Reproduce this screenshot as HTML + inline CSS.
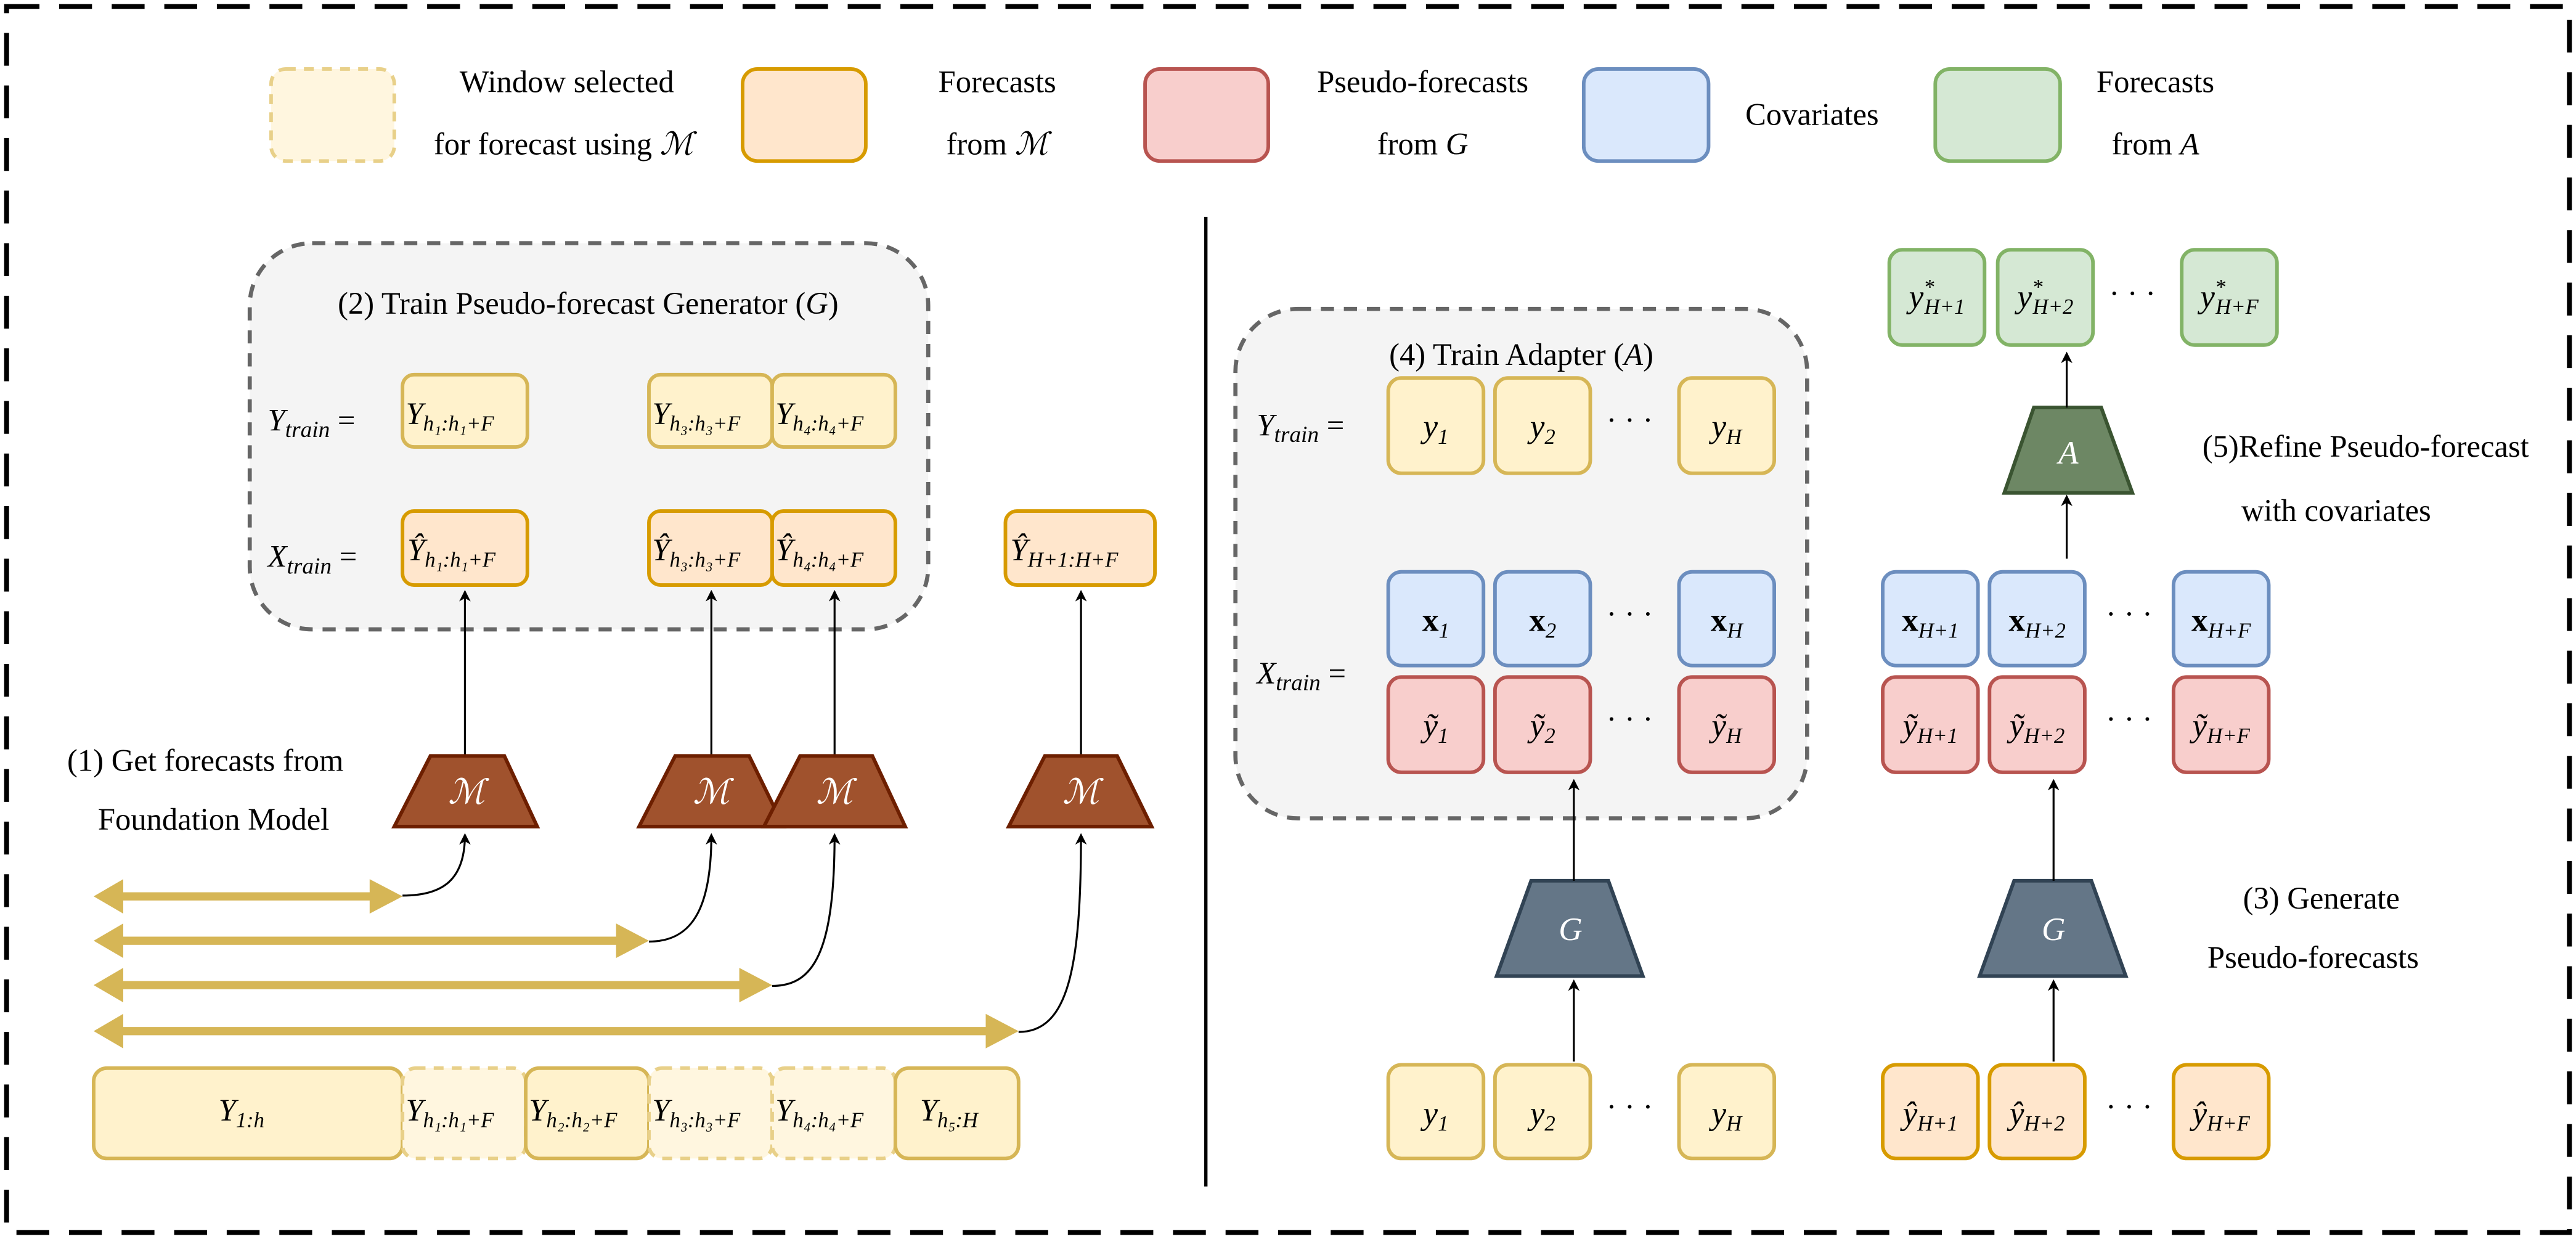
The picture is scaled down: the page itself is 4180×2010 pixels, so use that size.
<!DOCTYPE html>
<html><head><meta charset="utf-8"><style>
html,body{margin:0;padding:0;background:#fff;}
svg{display:block;}
svg text{font-family:"Liberation Serif","DejaVu Serif",serif !important;}
.m{font-style:italic;}
</style></head><body>
<svg width="4180" height="2010" viewBox="0 0 1568 754" xmlns="http://www.w3.org/2000/svg" font-family="Liberation Serif, DejaVu Serif, serif">
<defs>
<marker id="ah" markerWidth="8" markerHeight="8" refX="6" refY="4" orient="auto" markerUnits="userSpaceOnUse"><path d="M0,0.5 L7,4 L0,7.5 L2,4 Z" fill="#000"/></marker>
</defs>
<rect x="4" y="4" width="1560" height="746" fill="none" stroke="#000" stroke-width="3" stroke-dasharray="20,12"/>

<g stroke-width="2.2">
<rect x="165" y="42" width="75" height="56" rx="9" fill="#fff6df" stroke="#e8d089" stroke-dasharray="6,5"/>
<rect x="452" y="42" width="75" height="56" rx="9" fill="#ffe6cc" stroke="#d79b00"/>
<rect x="697" y="42" width="75" height="56" rx="9" fill="#f8cecc" stroke="#b85450"/>
<rect x="964" y="42" width="76" height="56" rx="9" fill="#dae8fc" stroke="#6c8ebf"/>
<rect x="1178" y="42" width="76" height="56" rx="9" fill="#d5e8d4" stroke="#82b366"/>
</g>
<g font-size="19" text-anchor="middle">
<text x="345" y="56">Window selected</text>
<text x="343" y="94">for forecast using <tspan class="m">ℳ</tspan></text>
<text x="607" y="56">Forecasts</text>
<text x="607" y="94">from <tspan class="m">ℳ</tspan></text>
<text x="866" y="56">Pseudo-forecasts</text>
<text x="866" y="94">from <tspan class="m">G</tspan></text>
<text x="1103" y="76">Covariates</text>
<text x="1312" y="56">Forecasts</text>
<text x="1312" y="94">from <tspan class="m">A</tspan></text>
</g>

<line x1="734" y1="132" x2="734" y2="722" stroke="#000" stroke-width="2"/>

<rect x="152" y="148" width="413" height="235" rx="38" fill="#f4f4f4" stroke="#666" stroke-width="2.5" stroke-dasharray="8,6"/>
<text x="358" y="191" font-size="19" text-anchor="middle">(2) Train Pseudo-forecast Generator (<tspan class="m">G</tspan>)</text>
<text x="163" y="262" font-size="19"><tspan class="m">Y</tspan><tspan class="m" font-size="14" dy="4">train</tspan><tspan dy="-4"> =</tspan></text>
<text x="163" y="345" font-size="19"><tspan class="m">X</tspan><tspan class="m" font-size="14" dy="4">train</tspan><tspan dy="-4"> =</tspan></text>
<g stroke-width="2.2" fill="#fff2cc" stroke="#d6b656">
<rect x="245" y="228" width="76" height="44" rx="7"/>
<rect x="395" y="228" width="75" height="44" rx="7"/>
<rect x="470" y="228" width="75" height="44" rx="7"/>
</g>
<g stroke-width="2.2" fill="#ffe6cc" stroke="#d79b00">
<rect x="245" y="311" width="76" height="45" rx="7"/>
<rect x="395" y="311" width="75" height="45" rx="7"/>
<rect x="470" y="311" width="75" height="45" rx="7"/>
<rect x="612" y="311" width="91" height="45" rx="7"/>
</g>
<g font-size="19" class="m">
<text x="247" y="258">Y<tspan font-size="13" dy="4">h₁:h₁+F</tspan></text>
<text x="397" y="258">Y<tspan font-size="13" dy="4">h₃:h₃+F</tspan></text>
<text x="472" y="258">Y<tspan font-size="13" dy="4">h₄:h₄+F</tspan></text>
<text x="248" y="341">Ŷ<tspan font-size="13" dy="4">h₁:h₁+F</tspan></text>
<text x="397" y="341">Ŷ<tspan font-size="13" dy="4">h₃:h₃+F</tspan></text>
<text x="472" y="341">Ŷ<tspan font-size="13" dy="4">h₄:h₄+F</tspan></text>
<text x="615" y="341">Ŷ<tspan font-size="13" dy="4">H+1:H+F</tspan></text>
</g>
<g stroke="#000" stroke-width="1.2" marker-end="url(#ah)">
<line x1="283" y1="460" x2="283" y2="360"/>
<line x1="433" y1="460" x2="433" y2="360"/>
<line x1="508" y1="460" x2="508" y2="360"/>
<line x1="658" y1="460" x2="658" y2="360"/>
</g>
<g fill="#a0522d" stroke="#6d1f00" stroke-width="2.2">
<polygon points="262,460 307,460 327,503 240,503"/>
<polygon points="411,460 456,460 477,503 389,503"/>
<polygon points="487,460 531,460 551,503 465,503"/>
<polygon points="636,460 680,460 701,503 614,503"/>
</g>
<g font-size="21" text-anchor="middle" class="m">
<text x="284" y="489" fill="#fff">ℳ</text>
<text x="433" y="489" fill="#fff">ℳ</text>
<text x="508" y="489" fill="#fff">ℳ</text>
<text x="658" y="489" fill="#fff">ℳ</text>
</g>
<text x="125" y="469" font-size="19" text-anchor="middle">(1) Get forecasts from</text>
<text x="130" y="505" font-size="19" text-anchor="middle">Foundation Model</text>

<g fill="#d6b656" stroke="none">
<rect x="65" y="543" width="165" height="5"/>
<polygon points="57,545.5 75,535 75,556"/><polygon points="245,545.5 225,535 225,556"/>
<rect x="65" y="570" width="315" height="5"/>
<polygon points="57,572.5 75,562 75,583"/><polygon points="395,572.5 375,562 375,583"/>
<rect x="65" y="597" width="390" height="5"/>
<polygon points="57,599.5 75,589 75,610"/><polygon points="470,599.5 450,589 450,610"/>
<rect x="65" y="625" width="540" height="5"/>
<polygon points="57,627.5 75,617 75,638"/><polygon points="620,627.5 600,617 600,638"/>
</g>
<g fill="none" stroke="#000" stroke-width="1.2" marker-end="url(#ah)">
<path d="M245,545 C270,545 283,535 283,508"/>
<path d="M395,573 C420,573 433,555 433,508"/>
<path d="M470,600 C495,600 508,580 508,508"/>
<path d="M620,628 C650,628 658,590 658,508"/>
</g>
<g stroke-width="2.2">
<rect x="57" y="650" width="188" height="55" rx="8" fill="#fff2cc" stroke="#d6b656"/>
<rect x="245" y="650" width="75" height="55" rx="8" fill="#fff6df" stroke="#e8d089" stroke-dasharray="6,5"/>
<rect x="320" y="650" width="75" height="55" rx="8" fill="#fff2cc" stroke="#d6b656"/>
<rect x="395" y="650" width="75" height="55" rx="8" fill="#fff6df" stroke="#e8d089" stroke-dasharray="6,5"/>
<rect x="470" y="650" width="75" height="55" rx="8" fill="#fff6df" stroke="#e8d089" stroke-dasharray="6,5"/>
<rect x="545" y="650" width="75" height="55" rx="8" fill="#fff2cc" stroke="#d6b656"/>
</g>
<g font-size="19" class="m">
<text x="133" y="682">Y<tspan font-size="13" dy="4">1:h</tspan></text>
<text x="247" y="682">Y<tspan font-size="13" dy="4">h₁:h₁+F</tspan></text>
<text x="322" y="682">Y<tspan font-size="13" dy="4">h₂:h₂+F</tspan></text>
<text x="397" y="682">Y<tspan font-size="13" dy="4">h₃:h₃+F</tspan></text>
<text x="472" y="682">Y<tspan font-size="13" dy="4">h₄:h₄+F</tspan></text>
<text x="560" y="682">Y<tspan font-size="13" dy="4">h₅:H</tspan></text>
</g>

<rect x="752" y="188" width="348" height="310" rx="38" fill="#f4f4f4" stroke="#666" stroke-width="2.5" stroke-dasharray="8,6"/>
<text x="926" y="222" font-size="19" text-anchor="middle">(4) Train Adapter (<tspan class="m">A</tspan>)</text>
<text x="765" y="265" font-size="19"><tspan class="m">Y</tspan><tspan class="m" font-size="14" dy="4">train</tspan><tspan dy="-4"> =</tspan></text>
<text x="765" y="416" font-size="19"><tspan class="m">X</tspan><tspan class="m" font-size="14" dy="4">train</tspan><tspan dy="-4"> =</tspan></text>

<g stroke-width="2.2">
<g fill="#fff2cc" stroke="#d6b656">
<rect x="845" y="230" width="58" height="58" rx="8"/><rect x="910" y="230" width="58" height="58" rx="8"/><rect x="1022" y="230" width="58" height="58" rx="8"/>
<rect x="845" y="648" width="58" height="57" rx="8"/><rect x="910" y="648" width="58" height="57" rx="8"/><rect x="1022" y="648" width="58" height="57" rx="8"/>
</g>
<g fill="#dae8fc" stroke="#6c8ebf">
<rect x="845" y="348" width="58" height="57" rx="8"/><rect x="910" y="348" width="58" height="57" rx="8"/><rect x="1022" y="348" width="58" height="57" rx="8"/>
<rect x="1146" y="348" width="58" height="57" rx="8"/><rect x="1211" y="348" width="58" height="57" rx="8"/><rect x="1323" y="348" width="58" height="57" rx="8"/>
</g>
<g fill="#f8cecc" stroke="#b85450">
<rect x="845" y="412" width="58" height="58" rx="8"/><rect x="910" y="412" width="58" height="58" rx="8"/><rect x="1022" y="412" width="58" height="58" rx="8"/>
<rect x="1146" y="412" width="58" height="58" rx="8"/><rect x="1211" y="412" width="58" height="58" rx="8"/><rect x="1323" y="412" width="58" height="58" rx="8"/>
</g>
<g fill="#d5e8d4" stroke="#82b366">
<rect x="1150" y="152" width="58" height="58" rx="8"/><rect x="1216" y="152" width="58" height="58" rx="8"/><rect x="1328" y="152" width="58" height="58" rx="8"/>
</g>
<g fill="#ffe6cc" stroke="#d79b00">
<rect x="1146" y="648" width="58" height="57" rx="8"/><rect x="1211" y="648" width="58" height="57" rx="8"/><rect x="1323" y="648" width="58" height="57" rx="8"/>
</g>
</g>
<g font-size="19" text-anchor="middle">
<text x="992" y="262">· · ·</text><text x="992" y="380">· · ·</text><text x="992" y="444">· · ·</text><text x="992" y="680">· · ·</text>
<text x="1298" y="185">· · ·</text><text x="1296" y="380">· · ·</text><text x="1296" y="444">· · ·</text><text x="1296" y="680">· · ·</text>
</g>
<g font-size="20" text-anchor="middle" class="m">
<text x="874" y="266">y<tspan font-size="13" dy="4">1</tspan></text>
<text x="939" y="266">y<tspan font-size="13" dy="4">2</tspan></text>
<text x="1051" y="266">y<tspan font-size="13" dy="4">H</tspan></text>
<text x="874" y="684">y<tspan font-size="13" dy="4">1</tspan></text>
<text x="939" y="684">y<tspan font-size="13" dy="4">2</tspan></text>
<text x="1051" y="684">y<tspan font-size="13" dy="4">H</tspan></text>
<text x="874" y="384"><tspan font-weight="bold" font-style="normal">x</tspan><tspan font-size="13" dy="4">1</tspan></text>
<text x="939" y="384"><tspan font-weight="bold" font-style="normal">x</tspan><tspan font-size="13" dy="4">2</tspan></text>
<text x="1051" y="384"><tspan font-weight="bold" font-style="normal">x</tspan><tspan font-size="13" dy="4">H</tspan></text>
<text x="874" y="448">ỹ<tspan font-size="13" dy="4">1</tspan></text>
<text x="939" y="448">ỹ<tspan font-size="13" dy="4">2</tspan></text>
<text x="1051" y="448">ỹ<tspan font-size="13" dy="4">H</tspan></text>
<text x="1175" y="384"><tspan font-weight="bold" font-style="normal">x</tspan><tspan font-size="13" dy="4">H+1</tspan></text>
<text x="1240" y="384"><tspan font-weight="bold" font-style="normal">x</tspan><tspan font-size="13" dy="4">H+2</tspan></text>
<text x="1352" y="384"><tspan font-weight="bold" font-style="normal">x</tspan><tspan font-size="13" dy="4">H+F</tspan></text>
<text x="1175" y="448">ỹ<tspan font-size="13" dy="4">H+1</tspan></text>
<text x="1240" y="448">ỹ<tspan font-size="13" dy="4">H+2</tspan></text>
<text x="1352" y="448">ỹ<tspan font-size="13" dy="4">H+F</tspan></text>
<text x="1175" y="684">ŷ<tspan font-size="13" dy="4">H+1</tspan></text>
<text x="1240" y="684">ŷ<tspan font-size="13" dy="4">H+2</tspan></text>
<text x="1352" y="684">ŷ<tspan font-size="13" dy="4">H+F</tspan></text>
<text x="1179" y="187">y<tspan font-size="13" dy="-8">*</tspan><tspan font-size="13" dx="-6" dy="12">H+1</tspan></text>
<text x="1245" y="187">y<tspan font-size="13" dy="-8">*</tspan><tspan font-size="13" dx="-6" dy="12">H+2</tspan></text>
<text x="1357" y="187">y<tspan font-size="13" dy="-8">*</tspan><tspan font-size="13" dx="-6" dy="12">H+F</tspan></text>
</g>

<g fill="#647687" stroke="#314354" stroke-width="2.2">
<polygon points="932,536 979,536 1000,594 911,594"/>
<polygon points="1226,536 1273,536 1294,594 1205,594"/>
</g>
<polygon points="1238,248 1279,248 1298,300 1220,300" fill="#6d8764" stroke="#3a5431" stroke-width="2.2"/>
<g font-size="20" text-anchor="middle" class="m">
<text x="956" y="572" fill="#fff">G</text>
<text x="1250" y="572" fill="#fff">G</text>
<text x="1259" y="282" fill="#fff">A</text>
</g>
<g stroke="#000" stroke-width="1.2" marker-end="url(#ah)">
<line x1="958" y1="646" x2="958" y2="597"/>
<line x1="958" y1="536" x2="958" y2="475"/>
<line x1="1250" y1="646" x2="1250" y2="597"/>
<line x1="1250" y1="536" x2="1250" y2="475"/>
<line x1="1258" y1="340" x2="1258" y2="302"/>
<line x1="1258" y1="248" x2="1258" y2="215"/>
</g>
<g font-size="19" text-anchor="middle">
<text x="1440" y="278">(5)Refine Pseudo-forecast</text>
<text x="1422" y="317">with covariates</text>
<text x="1413" y="553">(3) Generate</text>
<text x="1408" y="589">Pseudo-forecasts</text>
</g>
</svg>
</body></html>
